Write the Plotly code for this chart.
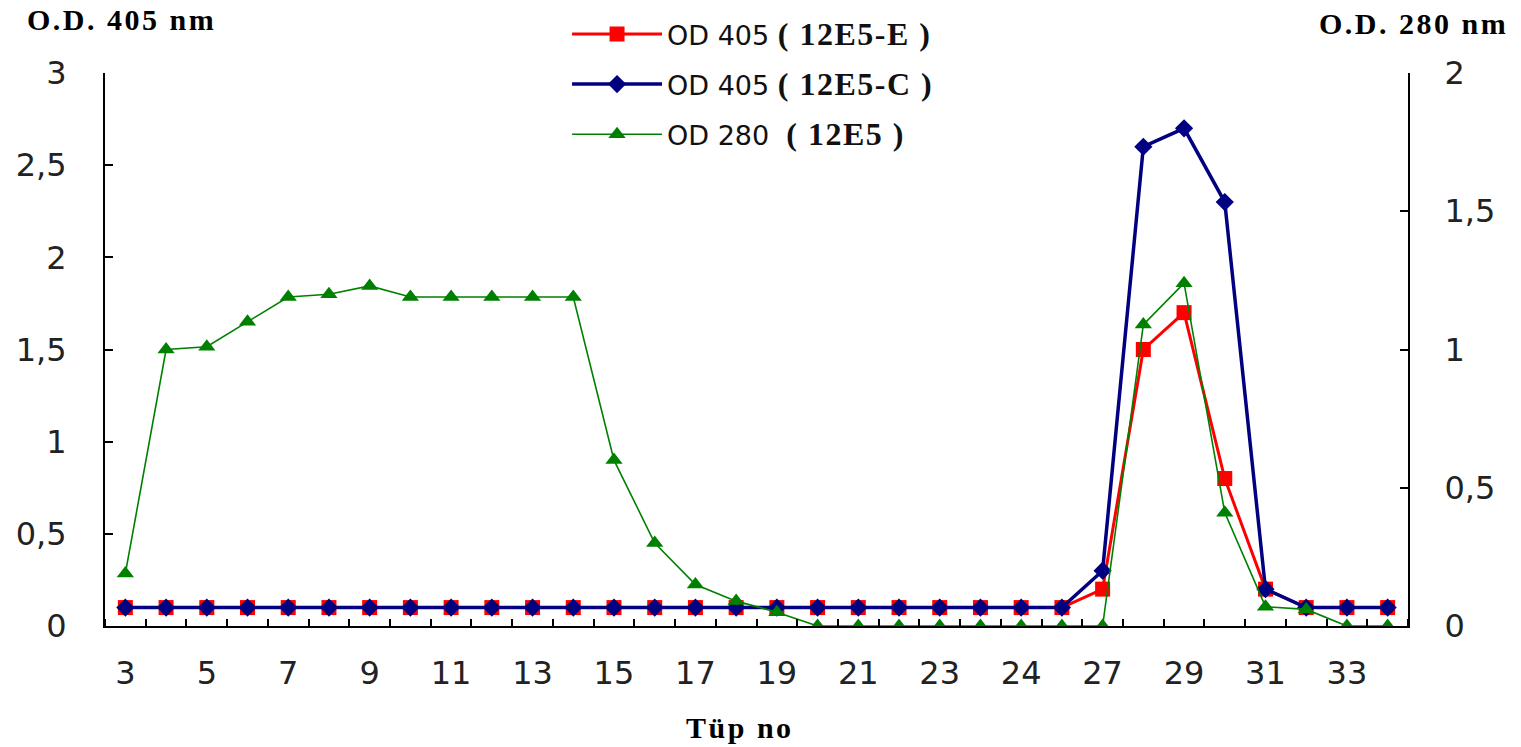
import plotly.graph_objects as go

# category positions and labels (as printed on the chart)
tubes = list(range(32))
tick_labels = ["3", "5", "7", "9", "11", "13", "15", "17", "19", "21", "23", "24", "27", "29", "31", "33"]
tick_positions = list(range(0, 32, 2))

od405_E = [0.1]*24 + [0.2, 1.5, 1.7, 0.8, 0.2, 0.1, 0.1, 0.1]
od405_C = [0.1]*24 + [0.3, 2.6, 2.7, 2.3, 0.2, 0.1, 0.1, 0.1]
od280 = [0.19, 1.0, 1.01, 1.1, 1.19, 1.2, 1.23, 1.19, 1.19, 1.19, 1.19, 1.19,
         0.6, 0.3, 0.15, 0.09, 0.05, 0, 0, 0, 0, 0, 0, 0, 0,
         1.09, 1.24, 0.41, 0.07, 0.06, 0, 0]

serif = "Liberation Serif"
sans = "DejaVu Sans"

def nm(a, b):
    return (f'{a}<span style="font-family:{serif};font-weight:bold;font-size:32px;'
            f'letter-spacing:1.5px">{b}</span>')

def bold_title(t, sp):
    return f'<span style="font-weight:bold;letter-spacing:{sp}px">{t}</span>'

fig = go.Figure()
fig.add_trace(go.Scatter(x=tubes, y=od405_E, mode="lines+markers", name=nm("OD 405 ", "( 12E5-E )"),
                         line=dict(color="#ff0000", width=3), legendgroup="a",
                         marker=dict(symbol="square", size=15, color="#ff0000")))
fig.add_trace(go.Scatter(x=tubes, y=od405_C, mode="lines+markers", name=nm("OD 405 ", "( 12E5-C )"),
                         line=dict(color="#000080", width=3.5), legendgroup="b",
                         marker=dict(symbol="diamond", size=14, color="#000080")))
fig.add_trace(go.Scatter(x=tubes, y=od280, mode="lines+markers", name=nm("OD 280 &nbsp;", "( 12E5 )"),
                         line=dict(color="#008000", width=1.6), legendgroup="c", yaxis="y2",
                         marker=dict(symbol="triangle-up", size=15, color="#008000")))

tickfont = dict(family=sans, size=32, color="#222")

fig.update_layout(
    width=1521, height=747,
    margin=dict(l=105, r=113, t=73, b=121, autoexpand=False),
    paper_bgcolor="white", plot_bgcolor="white",
    separators=", ",
    font=dict(family=sans, size=24, color="#222"),
    showlegend=True,
    legend=dict(x=0.3546, y=1.114, xanchor="left", yanchor="top", bgcolor="rgba(0,0,0,0)",
                font=dict(family=sans, size=27, color="#111"), tracegroupgap=12,
                traceorder="grouped", itemwidth=90),
    xaxis=dict(range=[-0.5, 31.5], tickvals=tick_positions, ticktext=tick_labels,
               ticks="", showgrid=False, zeroline=False, showline=True, linecolor="black",
               linewidth=2, tickfont=tickfont, ticklabelstandoff=18, automargin=False,
               minor=dict(tickmode="linear", tick0=-0.5, dtick=1, ticks="inside", ticklen=7,
                          tickcolor="black", tickwidth=1.5, showgrid=False)),
    yaxis=dict(range=[0, 3], dtick=0.5, ticks="inside", ticklen=8, tickwidth=1.5, tickcolor="black",
               showgrid=False, zeroline=False, showline=True, linecolor="black", linewidth=2,
               tickfont=tickfont, ticklabelstandoff=30, automargin=False),
    yaxis2=dict(range=[0, 2], dtick=0.5, overlaying="y", side="right", ticks="inside", ticklen=8,
                tickwidth=1.5, tickcolor="black", showgrid=False, zeroline=False, showline=True,
                linecolor="black", linewidth=2, tickfont=tickfont, ticklabelstandoff=28,
                automargin=False),
    annotations=[
        dict(text=bold_title("O.D. 405 nm", 2.5), xref="paper", yref="paper", x=-0.0614, y=1.096,
             xanchor="left", yanchor="middle", showarrow=False, font=dict(family=serif, size=30, color="black")),
        dict(text=bold_title("O.D. 280 nm", 2.5), xref="paper", yref="paper", x=1.078, y=1.089,
             xanchor="right", yanchor="middle", showarrow=False, font=dict(family=serif, size=30, color="black")),
        dict(text=bold_title("Tüp no", 2.5), xref="paper", yref="paper", x=0.487, y=-0.184,
             xanchor="center", yanchor="middle", showarrow=False, font=dict(family=serif, size=30, color="black")),
    ],
)

fig.write_html("out.html")
